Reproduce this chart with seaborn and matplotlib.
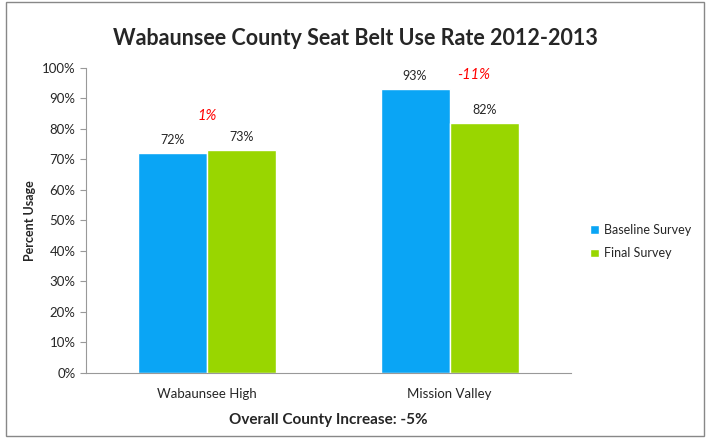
import pandas as pd
import matplotlib.pyplot as plt
import seaborn as sns
from matplotlib.patches import Rectangle
from matplotlib.ticker import PercentFormatter

schools = ['Wabaunsee High', 'Mission Valley']
surveys = ['Baseline Survey', 'Final Survey']
baseline = [72, 93]
final = [73, 82]
changes = ['1%', '-11%']
overall = 'Overall County Increase: -5%'

df = pd.DataFrame({
    'School': schools * 2,
    'Survey': [surveys[0]] * 2 + [surveys[1]] * 2,
    'Rate': baseline + final,
})

sns.set_style('white')
plt.rcParams['font.family'] = ['Lato', 'DejaVu Sans']

fig = plt.figure(figsize=(7.1, 4.43), dpi=100)
ax = fig.add_axes([0.121, 0.158, 0.683, 0.689])

sns.barplot(data=df, x='School', y='Rate', hue='Survey', order=schools, hue_order=surveys,
            palette=['#0AA5F5', '#99D600'], width=0.57, saturation=1, ax=ax)

for c in ax.containers:
    ax.bar_label(c, labels=[f'{v:.0f}%' for v in c.datavalues], padding=5, fontsize=9)

# red change labels above each pair
for i, (b, f, t) in enumerate(zip(baseline, final, changes)):
    y = max(b, f)
    ax.text(i + 0.1 if i else i, y + (9 if i == 0 else 2.5), t, color='red', style='italic',
            fontsize=10.5, ha='center', va='bottom')

ax.set_xlim(-0.5, 1.5)
ax.set_ylim(0, 100)
ax.set_yticks(range(0, 101, 10))
ax.yaxis.set_major_formatter(PercentFormatter(decimals=0))
ax.set_xticks([-0.5, 0.5, 1.5], minor=True)
ax.tick_params(axis='x', which='major', length=0, labelsize=9.5, pad=11)
ax.tick_params(axis='x', which='minor', length=4, color='#999999', direction='out')
ax.tick_params(axis='y', length=4, color='#999999', direction='out', labelsize=9.5, left=True)
ax.set_xlabel(overall, fontsize=11, fontweight='bold', labelpad=9)
ax.set_ylabel('Percent Usage', fontsize=9, fontweight='bold', labelpad=4)
sns.despine(ax=ax)
for s in ['left', 'bottom']:
    ax.spines[s].set_color('#999999')

ax.legend(loc='center left', bbox_to_anchor=(1.03, 0.43), frameon=False, fontsize=9,
          borderaxespad=0, handlelength=0.7, handleheight=0.7, handletextpad=0.4,
          labelspacing=0.9)

fig.text(0.5, 0.914, 'Wabaunsee County Seat Belt Use Rate 2012-2013', ha='center', va='center',
         fontsize=15.5, fontweight='bold')
fig.patches.append(Rectangle((0.009, 0.015), 0.982, 0.98, transform=fig.transFigure,
                             fill=False, edgecolor='#888888', linewidth=1))

fig.savefig('out.png', dpi=100)
